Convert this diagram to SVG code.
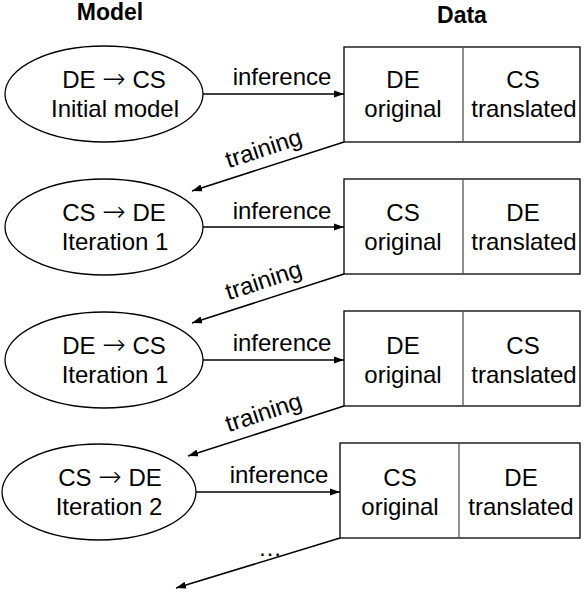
<svg xmlns="http://www.w3.org/2000/svg" width="584" height="592" viewBox="0 0 584 592">
<defs>
<marker id="ah" viewBox="0 0 10 10" refX="10" refY="5" markerWidth="10" markerHeight="10" markerUnits="userSpaceOnUse" orient="auto">
<path d="M0,1.5 L10,5 L0,8.5 Z" fill="#000"/>
</marker>
<style>
text{font-family:"Liberation Sans",Arial,sans-serif;font-size:24px;fill:#000;text-anchor:middle}
.h{font-weight:bold;font-size:23px}
.a{font-family:"DejaVu Sans ExtraLight","DejaVu Sans",sans-serif;font-weight:200;font-size:28px}
.n{fill:#fff;stroke:#000;stroke-width:1.3}
.d{stroke:#555;stroke-width:1.3}
.c{fill:none;stroke:#000;stroke-width:1.5;marker-end:url(#ah)}
</style>
</defs>
<rect width="584" height="592" fill="#fff"/>
<text class="h" x="110" y="20">Model</text>
<text class="h" x="462" y="23">Data</text>

<g id="m1"><ellipse class="n" cx="104" cy="94" rx="99" ry="48"/><text x="114" y="88">DE <tspan class="a">→</tspan> CS</text><text x="115" y="117">Initial model</text></g>
<g id="d1"><rect class="n" x="344" y="47" width="236" height="95"/><line class="d" x1="463" y1="47" x2="463" y2="142"/><text x="403" y="88">DE</text><text x="403" y="117">original</text><text x="523" y="88">CS</text><text x="524" y="117">translated</text></g>

<g id="m2"><ellipse class="n" cx="104" cy="227" rx="99" ry="48"/><text x="114" y="221">CS <tspan class="a">→</tspan> DE</text><text x="115" y="250">Iteration 1</text></g>
<g id="d2"><rect class="n" x="344" y="179" width="236" height="95"/><line class="d" x1="463" y1="179" x2="463" y2="274"/><text x="403" y="221">CS</text><text x="403" y="250">original</text><text x="523" y="221">DE</text><text x="524" y="250">translated</text></g>

<g id="m3"><ellipse class="n" cx="104" cy="360" rx="99" ry="48"/><text x="114" y="354">DE <tspan class="a">→</tspan> CS</text><text x="115" y="383">Iteration 1</text></g>
<g id="d3"><rect class="n" x="344" y="311" width="236" height="95"/><line class="d" x1="463" y1="311" x2="463" y2="406"/><text x="403" y="354">DE</text><text x="403" y="383">original</text><text x="523" y="354">CS</text><text x="524" y="383">translated</text></g>

<g id="m4"><ellipse class="n" cx="99" cy="492" rx="97" ry="48"/><text x="110" y="486">CS <tspan class="a">→</tspan> DE</text><text x="109" y="515">Iteration 2</text></g>
<g id="d4"><rect class="n" x="340" y="443" width="240" height="95"/><line class="d" x1="459" y1="443" x2="459" y2="538"/><text x="400" y="486">CS</text><text x="400" y="515">original</text><text x="521" y="486">DE</text><text x="521" y="515">translated</text></g>

<g id="connectors">
<line class="c" x1="203" y1="94" x2="344" y2="94"/>
<text x="282" y="85">inference</text>
<line class="c" x1="344" y1="142" x2="192" y2="191"/>
<text transform="translate(266,156) rotate(-18)">training</text>
<line class="c" x1="203" y1="227" x2="344" y2="227"/>
<text x="282" y="219">inference</text>
<line class="c" x1="344" y1="274" x2="192" y2="323"/>
<text transform="translate(266,288) rotate(-18)">training</text>
<line class="c" x1="203" y1="360" x2="344" y2="360"/>
<text x="282" y="351">inference</text>
<line class="c" x1="344" y1="406" x2="188" y2="456"/>
<text transform="translate(266,420) rotate(-18)">training</text>
<line class="c" x1="196" y1="492" x2="340" y2="492"/>
<text x="279" y="483">inference</text>
<line class="c" x1="340" y1="538" x2="176" y2="588"/>
<text x="270" y="556">…</text>
</g>
</svg>
